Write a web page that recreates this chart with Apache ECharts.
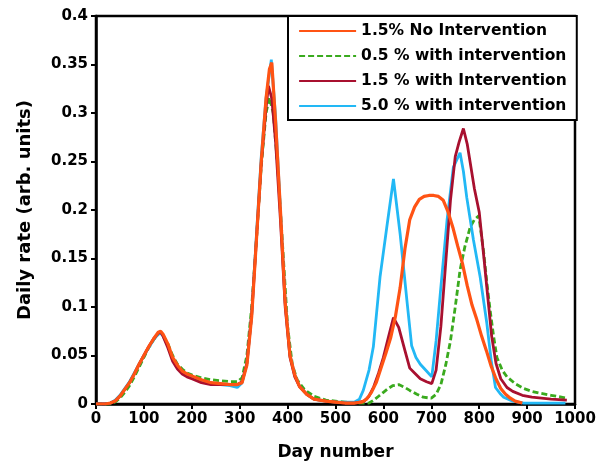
<!DOCTYPE html>
<html>
<head>
<meta charset="utf-8">
<script src="https://cdn.jsdelivr.net/npm/echarts@6/dist/echarts.min.js"></script>
<style>html,body{margin:0;padding:0;background:#fff}#c{width:597px;height:467px}</style>
</head>
<body>
<div id="c"></div>
<script>
var seriesNames = ['1.5% No Intervention', '0.5 % with intervention', '1.5 % with Intervention', '5.0 % with intervention'];

var oDays = [0,20,30,40,50,60,70,80,90,100,110,120,130,135,140,150,160,170,180,190,200,220,240,260,280,295,305,315,325,335,345,355,362,367,375,385,395,405,415,425,440,455,480,500,520,540,555,565,575,585,595,605,615,625,635,645,655,665,675,685,695,705,715,725,735,745,755,765,775,785,795,805,815,825,835,845,855,865,875,890];
var oVals = [0,0,0.001,0.003,0.008,0.015,0.022,0.031,0.041,0.05,0.059,0.067,0.074,0.075,0.072,0.062,0.048,0.04,0.034,0.031,0.029,0.025,0.022,0.021,0.02,0.02,0.022,0.04,0.09,0.17,0.25,0.315,0.345,0.352,0.29,0.2,0.105,0.05,0.03,0.018,0.01,0.005,0.003,0.002,0.001,0.001,0.002,0.005,0.012,0.022,0.037,0.052,0.068,0.09,0.12,0.16,0.19,0.203,0.211,0.214,0.215,0.215,0.214,0.21,0.198,0.182,0.163,0.145,0.122,0.102,0.087,0.07,0.055,0.039,0.026,0.016,0.01,0.006,0.003,0.001];

var gDays = [0,20,30,40,50,60,70,80,90,100,110,120,130,135,140,150,160,170,180,190,200,220,240,260,280,295,305,315,325,335,345,355,362,370,380,390,400,410,420,435,455,480,500,520,550,570,580,590,600,610,620,632,645,655,670,683,700,710,720,730,740,750,760,770,781,790,799,809,816,823,830,837,848,858,875,893,910,928,950,983];
var gVals = [0,0,0,0.002,0.006,0.012,0.019,0.028,0.038,0.048,0.058,0.066,0.072,0.074,0.071,0.062,0.05,0.041,0.036,0.032,0.03,0.027,0.025,0.024,0.023,0.023,0.027,0.05,0.1,0.17,0.245,0.3,0.316,0.3,0.24,0.16,0.08,0.04,0.025,0.015,0.008,0.004,0.003,0.002,0.001,0.001,0.004,0.008,0.012,0.016,0.019,0.02,0.017,0.014,0.01,0.007,0.006,0.01,0.02,0.04,0.065,0.1,0.138,0.162,0.182,0.19,0.194,0.158,0.125,0.096,0.07,0.048,0.035,0.028,0.021,0.016,0.013,0.011,0.009,0.006];

var rDays = [0,20,30,40,50,60,70,80,90,100,110,120,130,135,140,150,160,170,180,190,200,220,240,260,280,295,305,315,325,335,345,355,360,367,375,385,395,405,415,425,440,455,480,500,520,540,560,570,580,590,600,610,621,632,645,655,665,677,690,701,710,720,730,740,750,758,767,775,790,800,810,820,826,835,845,858,870,890,910,930,950,983];
var rVals = [0,0,0.001,0.003,0.008,0.015,0.022,0.031,0.041,0.05,0.059,0.067,0.073,0.074,0.07,0.058,0.044,0.036,0.031,0.028,0.026,0.022,0.02,0.02,0.02,0.02,0.023,0.042,0.092,0.17,0.248,0.305,0.328,0.315,0.27,0.19,0.1,0.048,0.028,0.018,0.01,0.005,0.003,0.002,0.001,0.001,0.003,0.008,0.018,0.032,0.048,0.068,0.089,0.079,0.055,0.037,0.032,0.026,0.023,0.021,0.035,0.08,0.145,0.21,0.255,0.27,0.284,0.268,0.222,0.198,0.15,0.1,0.07,0.042,0.026,0.017,0.013,0.009,0.007,0.006,0.005,0.004];

var bDays = [0,20,30,40,50,60,70,80,90,100,110,120,130,135,140,150,160,170,180,190,200,220,240,260,280,295,305,315,325,335,345,355,366,375,385,395,405,415,425,440,455,480,500,520,540,550,558,570,579,593,607,621,635,649,659,668,677,690,701,710,719,733,746,760,767,774,788,802,816,825,834,845,851,870,893,920,980];
var bVals = [0,0,0.001,0.004,0.009,0.016,0.023,0.032,0.041,0.05,0.058,0.066,0.072,0.073,0.07,0.06,0.047,0.039,0.033,0.03,0.028,0.024,0.021,0.02,0.019,0.017,0.022,0.042,0.092,0.175,0.255,0.315,0.355,0.295,0.2,0.105,0.05,0.03,0.018,0.01,0.005,0.003,0.002,0.002,0.002,0.005,0.014,0.035,0.059,0.131,0.182,0.232,0.175,0.107,0.06,0.048,0.041,0.034,0.028,0.065,0.115,0.19,0.244,0.259,0.24,0.213,0.169,0.131,0.083,0.045,0.017,0.01,0.007,0.003,0.001,0.001,0.001];

function pairs(d, v) { return d.map(function (x, i) { return [x, v[i]]; }); }

var FONT = 'DejaVu Sans';
var chart = echarts.init(document.getElementById('c'), null, {renderer: 'canvas'});
var colors = {o: '#FF5314', g: '#3AAA1E', r: '#A8102F', b: '#22B8F5'};

chart.setOption({
  animation: false,
  backgroundColor: '#fff',
  grid: {left: 96, right: 22, top: 16, bottom: 63, show: true, borderColor: '#000', borderWidth: 2.5,
         containLabel: false, outerBoundsMode: 'none'},
  xAxis: {
    type: 'value', min: 0, max: 1000, interval: 100,
    name: 'Day number', nameLocation: 'middle', nameGap: 40,
    nameTextStyle: {fontFamily: FONT, fontWeight: 'bold', fontSize: 17, color: '#000'},
    axisLine: {show: true, onZero: false, lineStyle: {color: '#000', width: 2.5}},
    axisTick: {show: true, inside: false, length: 5, lineStyle: {color: '#000', width: 2}},
    axisLabel: {fontFamily: FONT, fontWeight: 'bold', fontSize: 15, color: '#000', margin: 8,
      formatter: function (v) { return String(v); }},
    splitLine: {show: false}
  },
  yAxis: {
    type: 'value', min: 0, max: 0.4, interval: 0.05,
    name: 'Daily rate (arb. units)', nameLocation: 'middle', nameGap: 62,
    nameTextStyle: {fontFamily: FONT, fontWeight: 'bold', fontSize: 18, color: '#000'},
    axisLine: {show: true, onZero: false, lineStyle: {color: '#000', width: 2.5}},
    axisTick: {show: true, inside: false, length: 5, lineStyle: {color: '#000', width: 2}},
    axisLabel: {fontFamily: FONT, fontWeight: 'bold', fontSize: 15, color: '#000', margin: 8,
      formatter: function (v) { return String(Math.round(v * 100) / 100); }},
    splitLine: {show: false}
  },
  legend: {
    orient: 'vertical', left: 288, top: 16,
    data: seriesNames,
    backgroundColor: '#fff', borderColor: '#000', borderWidth: 2,
    padding: [5, 10, 4, 10], itemGap: 5, itemWidth: 57, itemHeight: 14,
    itemStyle: {opacity: 0},
    lineStyle: {width: 2.2},
    textStyle: {fontFamily: FONT, fontWeight: 'bold', fontSize: 15.5, color: '#000', lineHeight: 20}
  },
  series: [
    {name: seriesNames[1], type: 'line', data: pairs(gDays, gVals), symbol: 'none', showSymbol: false, z: 2,
     lineStyle: {color: colors.g, width: 2.8, type: [6, 3]}, itemStyle: {color: colors.g}},
    {name: seriesNames[3], type: 'line', data: pairs(bDays, bVals), symbol: 'none', showSymbol: false, z: 3,
     lineStyle: {color: colors.b, width: 2.8}, itemStyle: {color: colors.b}},
    {name: seriesNames[2], type: 'line', data: pairs(rDays, rVals), symbol: 'none', showSymbol: false, z: 4,
     lineStyle: {color: colors.r, width: 2.8}, itemStyle: {color: colors.r}},
    {name: seriesNames[0], type: 'line', data: pairs(oDays, oVals), symbol: 'none', showSymbol: false, z: 5,
     lineStyle: {color: colors.o, width: 3.2}, itemStyle: {color: colors.o}}
  ]
});
</script>
</body>
</html>
